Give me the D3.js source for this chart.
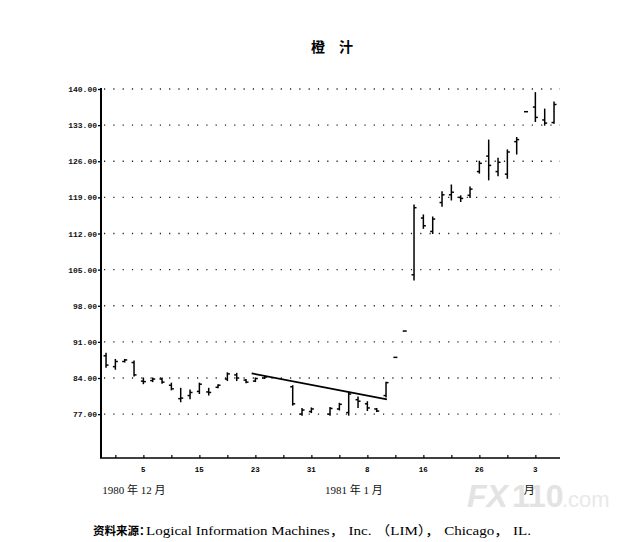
<!DOCTYPE html>
<html><head><meta charset="utf-8">
<script src="https://cdn.jsdelivr.net/npm/d3@7"></script>
<style>
html,body{margin:0;padding:0;background:#fff;}
svg{display:block;}
</style></head>
<body>
<svg id="chart" width="643" height="542"></svg>
<script>
// ---- data ----
const dates = ["1980-12-01","1980-12-02","1980-12-03","1980-12-04","1980-12-05","1980-12-08","1980-12-09","1980-12-10","1980-12-11","1980-12-12",
"1980-12-15","1980-12-16","1980-12-17","1980-12-18","1980-12-19","1980-12-22","1980-12-23","1980-12-24","1980-12-29","1980-12-30","1980-12-31",
"1981-01-02","1981-01-05","1981-01-06","1981-01-07","1981-01-08","1981-01-09","1981-01-12","1981-01-13","1981-01-14","1981-01-15","1981-01-16",
"1981-01-19","1981-01-20","1981-01-21","1981-01-22","1981-01-23","1981-01-26","1981-01-27","1981-01-28","1981-01-29","1981-01-30",
"1981-02-02","1981-02-03","1981-02-04","1981-02-05"];
const highs = [88.8,87.6,87.6,87.3,84.0,84.0,84.0,83.0,82.0,81.7,
83.0,82.0,82.7,85.0,84.9,83.7,84.0,84.3,82.5,78.1,78.2,
78.3,79.1,81.2,80.3,79.4,78.1,83.2,88.0,93.1,117.5,115.6,
115.2,120.1,121.4,119.3,121.0,126.0,130.1,126.6,128.2,130.6,
135.6,139.3,136.1,137.5];
const lows = [86.1,85.7,87.1,84.4,82.9,83.3,83.0,81.7,79.4,80.0,
81.0,80.7,82.1,83.5,83.5,83.1,83.3,83.9,78.75,76.8,77.3,
76.8,77.8,76.8,78.3,77.7,77.5,80.3,88.0,93.1,103.0,113.0,
112.0,117.3,118.5,118.2,119.0,123.7,122.4,123.2,122.7,127.4,
135.6,133.7,133.0,133.35];
const opens = [88.3,86.2,87.2,87.0,83.4,83.5,83.8,82.6,80.0,80.6,
81.4,81.3,82.2,83.8,84.6,83.6,83.4,84.0,82.3,77.0,77.5,
77.0,78.0,77.3,79.8,79.0,78.0,80.6,88.0,93.1,104.0,115.0,
112.4,118.0,119.5,119.0,119.4,124.0,127.0,124.0,123.5,129.8,
135.6,136.5,134.0,133.5];
const closes = [86.5,87.2,87.5,84.6,83.3,83.8,83.2,81.9,80.1,81.2,
82.8,81.2,82.6,84.8,84.0,83.2,83.9,84.2,79.0,77.8,78.0,
78.1,78.9,80.9,79.5,78.2,77.6,83.1,88.0,93.1,117.0,113.5,
114.8,119.5,120.0,118.8,120.6,125.6,125.2,125.8,127.8,130.2,
135.6,134.5,133.4,137.0];
// weekday positions (trading-day axis counted in weekdays from 1 Dec 1980)
const axisStartDay = -0.54, axisEndDay = 48.64;
const tickDays = [1,4,7,10,13,16,19,22,25,28,31,34,37,40,43,46];
const labelDays = [4,10,16,22,28,34,40,46];
const labelTexts = ["5","15","23","31","8","16","26","3"];
const yTicks = [77,84,91,98,105,112,119,126,133,140];
const yMin = 68.5, yMax = 140;
// trend line (weekday index, price)
const trendDays = [15.6, 30.1];
const trendPrices = [84.9, 79.85];
const title = "橙\u3000汁";
const monthLabels = ["1980 年 12 月","1981 年 1 月","月"];
const monthDays = [-0.4, 23.45, 44.75];
const source = "资料来源：";
const sourceRest = "Logical Information Machines， Inc. （LIM）， Chicago， IL.";

// ---- helpers ----
const base = new Date(1980, 11, 1);
function weekdayIndex(s){
  const p = s.split("-").map(Number);
  const d = new Date(p[0], p[1]-1, p[2]);
  let n = 0; const c = new Date(base);
  while (c < d){ const w = c.getDay(); c.setDate(c.getDate()+1); if (w!==0 && w!==6) n++; }
  return n;
}
const data = dates.map((d,i)=>({day:weekdayIndex(d), o:opens[i], h:highs[i], l:lows[i], c:closes[i]}));

const svg = d3.select("#chart");
const x = d3.scaleLinear().domain([axisStartDay, axisEndDay]).range([101, 560]);
const y = d3.scaleLinear().domain([yMin, yMax]).range([458, 89]);

// watermark
const wm = svg.append("g").attr("font-family","Liberation Sans, Arial, sans-serif").attr("font-weight","bold");
wm.append("text").attr("x",467).attr("y",507).attr("font-size",32).attr("font-style","italic").attr("fill","#e3e3e3").text("FX");
wm.append("text").attr("x",512).attr("y",507).attr("font-size",32).attr("fill","#e3e3e3").text("110");
wm.append("text").attr("x",562).attr("y",507).attr("font-size",22).attr("font-weight","normal").attr("fill","#e9e9e9").text(".com");

// title
svg.append("text").attr("x",332).attr("y",52).attr("text-anchor","middle")
  .attr("font-family","Noto Sans CJK SC").attr("font-weight","bold").attr("font-size",14)
  .text(title);

// grid
svg.append("g").selectAll("line").data(yTicks).join("line")
  .attr("x1",104).attr("x2",560).attr("y1",d=>y(d)).attr("y2",d=>y(d))
  .attr("stroke","#222").attr("stroke-width",1.3).attr("stroke-dasharray","1.2,8.1");

// y axis
const yAxis = d3.axisLeft(y).tickValues(yTicks).tickFormat(d3.format(".2f")).tickSize(3).tickPadding(1);
const gy = svg.append("g").attr("transform","translate(101,0)").call(yAxis);
gy.select(".domain").remove();
gy.selectAll(".tick line").attr("stroke","#000").attr("stroke-width",1.3);
gy.selectAll(".tick text").attr("font-family","Liberation Mono, monospace").attr("font-weight","bold").attr("font-size",8).attr("fill","#111");
svg.append("line").attr("x1",101).attr("x2",101).attr("y1",y(yMax)-1).attr("y2",458).attr("stroke","#000").attr("stroke-width",2);

// x axis
const xAxis = d3.axisBottom(x).tickValues(tickDays).tickSize(-3).tickFormat("");
const gx = svg.append("g").attr("transform","translate(0,458)").call(xAxis);
gx.select(".domain").remove();
gx.selectAll(".tick line").attr("stroke","#000").attr("stroke-width",1.2);
svg.append("line").attr("x1",100).attr("x2",560).attr("y1",458).attr("y2",458).attr("stroke","#000").attr("stroke-width",1.6);
svg.append("g").selectAll("text").data(labelDays).join("text")
  .attr("x",d=>x(d)).attr("y",472).attr("text-anchor","middle")
  .attr("font-family","Liberation Mono, monospace").attr("font-weight","bold").attr("font-size",7.5)
  .text((d,i)=>labelTexts[i]);
svg.append("g").selectAll("text").data(monthLabels).join("text")
  .attr("x",(d,i)=>x(monthDays[i])).attr("y",494)
  .attr("font-family","Liberation Serif, Noto Sans CJK SC, serif").attr("font-size",11).attr("fill","#111")
  .text(d=>d);

// OHLC bars
const bars = svg.append("g").attr("stroke","#000").attr("stroke-width",1.5);
data.forEach(d=>{
  const cx = x(d.day);
  if (d.h === d.l){
    bars.append("line").attr("x1",cx-2).attr("x2",cx+2).attr("y1",y(d.h)).attr("y2",y(d.h));
    return;
  }
  bars.append("line").attr("x1",cx).attr("x2",cx).attr("y1",y(d.h)-0.5).attr("y2",y(d.l)+0.5);
  bars.append("line").attr("x1",cx-2.5).attr("x2",cx).attr("y1",y(d.o)).attr("y2",y(d.o));
  bars.append("line").attr("x1",cx).attr("x2",cx+2.5).attr("y1",y(d.c)).attr("y2",y(d.c));
});

// trend line
svg.append("line")
  .attr("x1",x(trendDays[0])).attr("y1",y(trendPrices[0]))
  .attr("x2",x(trendDays[1])).attr("y2",y(trendPrices[1]))
  .attr("stroke","#000").attr("stroke-width",1.8);

// source
svg.append("text").attr("x",93).attr("y",535).attr("font-size",11.5)
  .attr("font-family","Noto Sans CJK SC").attr("font-weight","bold").text(source);
svg.append("text").attr("x",146).attr("y",535).attr("font-size",13)
  .attr("font-family","Liberation Serif, Noto Sans CJK SC, serif")
  .attr("textLength",385).attr("lengthAdjust","spacingAndGlyphs").text(sourceRest);
</script>
</body></html>
